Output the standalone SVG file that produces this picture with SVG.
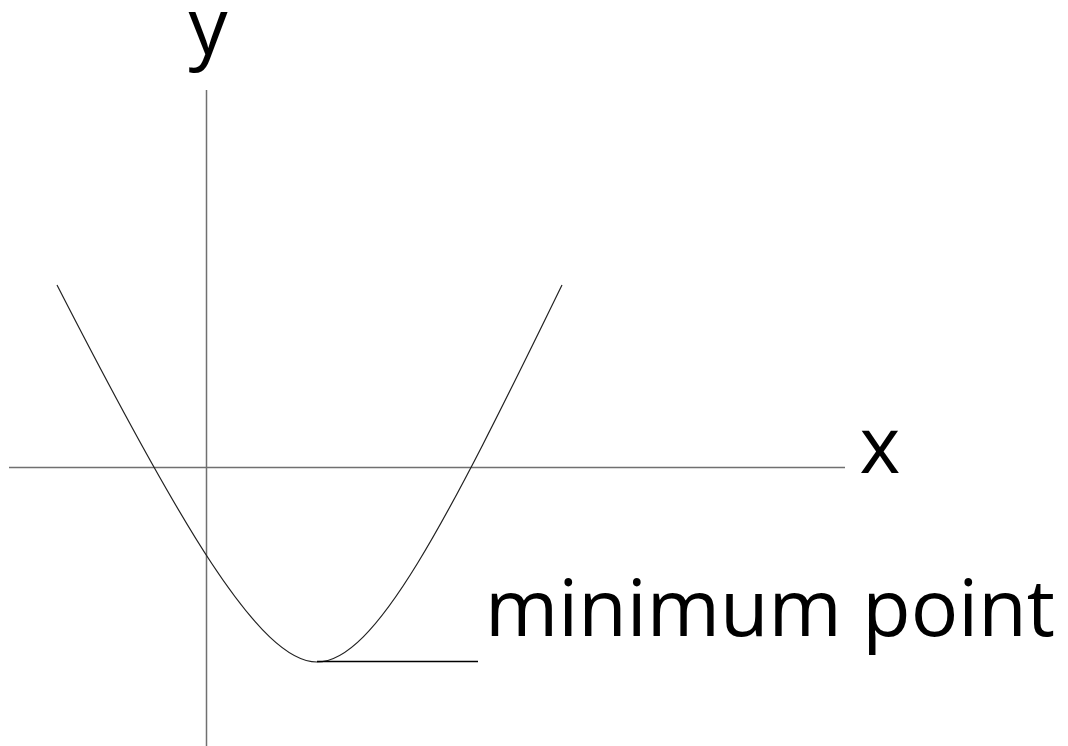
<svg xmlns="http://www.w3.org/2000/svg" width="1068" height="746" viewBox="0 0 1068 746">
<style>
.axis{stroke:#707070;stroke-width:1.5;fill:none}
.curve{stroke:#222;stroke-width:1.2;fill:none}
.lead{stroke:#000;stroke-width:1.5;fill:none}
.lbl{font-family:"Open Sans","Noto Sans",sans-serif;font-size:78px;fill:#000}
</style>
<rect width="1068" height="746" fill="#fff"/>
<g id="axes">
<line id="y-axis" class="axis" x1="206.5" y1="90" x2="206.5" y2="746"/>
<line id="x-axis" class="axis" x1="9" y1="467.5" x2="845" y2="467.5"/>
</g>
<g id="connectors">
<path id="parabola" class="curve" d="M57,285 C180,525 260,662 317,662 C375,662 445,525 562,285"/>
<line id="leader" class="lead" x1="317" y1="661.5" x2="478" y2="661.5"/>
</g>
<g id="label-y"><text class="lbl" x="208" y="54" text-anchor="middle">y</text></g>
<g id="label-x"><text class="lbl" x="880" y="473" text-anchor="middle">x</text></g>
<g id="label-min"><text class="lbl" x="485" y="636" textLength="570" lengthAdjust="spacingAndGlyphs">minimum point</text></g>
</svg>
